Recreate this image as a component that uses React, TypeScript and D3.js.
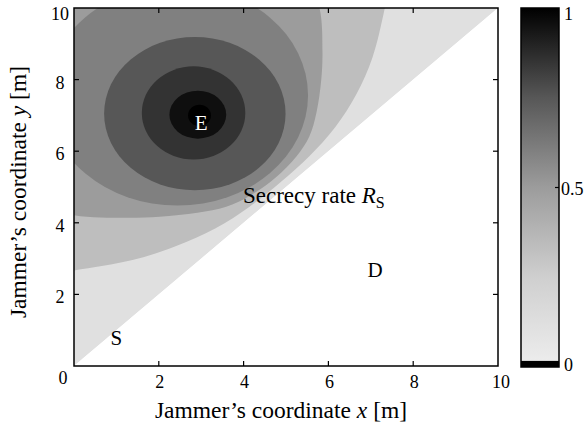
import React from 'react';
import * as d3 from 'd3';

// ---- data ----
const xDomain: [number, number] = [0, 10];
const yDomain: [number, number] = [0, 10];
const innerTicks = [2, 4, 6, 8];
const xLabelValues = [2, 4, 6, 8, 10];
const yLabelValues = [2, 4, 6, 8, 10];

// gray level of each filled contour band (outer -> inner)
const levelColors = ['#e0e0e0', '#bebebe', '#9c9c9c', '#808080', '#575757', '#333333', '#0f0f0f', '#000000'];

// contour boundary B2 (band 1 / band 2), open curve leaving the plot on the left and top
const b2Points: [number, number][] = [
  [-2.28, 2.38], [-1.01, 2.53], [0, 2.67], [1.38, 2.96], [2.41, 3.35], [3.33, 3.84], [4.14, 4.45], [4.87, 5.13],
  [5.55, 5.86], [6.16, 6.67], [6.66, 7.59], [7.04, 8.62], [7.33, 10.0], [7.48, 11.01], [7.62, 12.28],
];
const b2Far: [number, number][] = [[-3, 13]];

// contour boundary B3 (band 2 / band 3)
const b3Points: [number, number][] = [
  [-2.47, 5.54], [-1.08, 4.58], [0, 4.21], [1.22, 4.14], [2.02, 4.17], [2.91, 4.28], [3.59, 4.45], [4.14, 4.75],
  [4.75, 5.26], [5.25, 5.86], [5.55, 6.41], [5.72, 7.09], [5.83, 7.98], [5.86, 8.78], [5.79, 10.0],
  [5.42, 11.08], [4.46, 12.47],
];
const b3Far: [number, number][] = [[-3, 13]];

// closed contour levels 4..8 (B4, B5 and the rings around E): centre and radii in data units
const ringCx = [2.44, 2.85, 2.82, 2.92, 2.96];
const ringCy = [7.56, 7.05, 7.07, 7.02, 7.0];
const ringRx = [3.08, 2.14, 1.22, 0.67, 0.27];
const ringRy = [3.08, 2.14, 1.3, 0.67, 0.3];

// node labels
const nodeNames = ['E', 'D', 'S'];
const nodeX = [3.0, 7.1, 1.0];
const nodeY = [6.6, 2.5, 0.6];

// colorbar
const cbTicks = [0, 0.5, 1];
const cbTickLabels = ['0', '0.5', '1'];
const cbStops = [0, 0.25, 0.5, 0.75, 1];
const cbStopColors = ['#eeeeee', '#cfcfcf', '#9c9c9c', '#575757', '#000000'];
const cbUnderflow = 0.017;

const FONT = 'Liberation Serif, Times New Roman, Times, serif';

export default function App() {
  const x = d3.scaleLinear().domain(xDomain).range([74, 498]);
  const y = d3.scaleLinear().domain(yDomain).range([366, 8]);
  const cb = d3.scaleLinear().domain([0, 1]).range([367, 8]);

  const open = d3.line<[number, number]>().x(d => x(d[0])).y(d => y(d[1])).curve(d3.curveCatmullRom.alpha(0.5));
  const openPath = (pts: [number, number][], far: [number, number][]) =>
    (open(pts) || '') + far.map(p => `L${x(p[0])},${y(p[1])}`).join('') + 'Z';

  const tri = `M${x(0)},${y(0)}L${x(0)},${y(10)}L${x(10)},${y(10)}Z`;
  const x0 = x(0), x1 = x(10), y0 = y(0), y1 = y(10);

  return (
    <svg width={585} height={428} style={{ position: 'absolute', left: 0, top: 0, background: '#fff', fontFamily: FONT }}>
      <defs>
        <clipPath id="upper">
          <path d={tri} />
        </clipPath>
        <linearGradient id="cbgrad" x1="0" y1="1" x2="0" y2="0">
          {cbStops.map((s, i) => (
            <stop key={s} offset={s} stopColor={cbStopColors[i]} />
          ))}
        </linearGradient>
      </defs>

      {/* filled contour bands */}
      <rect x={x0} y={y1} width={x1 - x0} height={y0 - y1} fill="#fff" />
      <g clipPath="url(#upper)">
        <path d={tri} fill={levelColors[0]} />
        <path d={openPath(b2Points, b2Far)} fill={levelColors[1]} />
        <path d={openPath(b3Points, b3Far)} fill={levelColors[2]} />
        {ringCx.map((cx, i) => (
          <ellipse key={i} cx={x(cx)} cy={y(ringCy[i])}
            rx={x(ringRx[i]) - x(0)} ry={y(0) - y(ringRy[i])} fill={levelColors[3 + i]} />
        ))}
      </g>

      {/* frame + ticks */}
      <rect x={x0} y={y1} width={x1 - x0} height={y0 - y1} fill="none" stroke="#000" strokeWidth={1.5} />
      {innerTicks.map(t => (
        <g key={'t' + t} stroke="#000" strokeWidth={1.2}>
          <line x1={x(t)} x2={x(t)} y1={y0} y2={y0 - 5} />
          <line x1={x(t)} x2={x(t)} y1={y1} y2={y1 + 5} />
          <line x1={x0} x2={x0 + 5} y1={y(t)} y2={y(t)} />
          <line x1={x1} x2={x1 - 5} y1={y(t)} y2={y(t)} />
        </g>
      ))}

      {/* tick labels */}
      <g fontSize={18} fill="#000" textAnchor="middle" fontFamily={FONT}>
        {xLabelValues.map(v => (
          <text key={'xl' + v} x={x(v) + (v === 10 ? 3 : 1)} y={388}>{v}</text>
        ))}
        {yLabelValues.map(v => (
          <text key={'yl' + v} x={60} y={Math.max(y(v) + 9, 20)}>{v}</text>
        ))}
        <text x={63} y={384}>0</text>
      </g>

      {/* axis titles */}
      <text x={281} y={418} fontSize={23.5} textAnchor="middle" fontFamily={FONT}>
        Jammer’s coordinate <tspan fontStyle="italic">x</tspan> [m]
      </text>
      <text transform="translate(26,192) rotate(-90)" fontSize={23.5} textAnchor="middle" fontFamily={FONT}>
        Jammer’s coordinate <tspan fontStyle="italic">y</tspan> [m]
      </text>

      {/* annotations */}
      <text x={243} y={203} fontSize={23} fontFamily={FONT}>
        Secrecy rate <tspan fontStyle="italic">R</tspan><tspan fontSize={16} dy={5}>S</tspan>
      </text>
      {nodeNames.map((n, i) => (
        <text key={n} x={x(nodeX[i])} y={y(nodeY[i])} fontSize={21} textAnchor="middle" fontFamily={FONT}
          fill={n === 'E' ? '#fff' : '#000'}>{n}</text>
      ))}

      {/* colorbar */}
      <rect x={521} y={cb(1)} width={38} height={cb(0) - cb(1)} fill="url(#cbgrad)" />
      <rect x={521} y={cb(cbUnderflow)} width={38} height={cb(0) - cb(cbUnderflow)} fill="#000" />
      <rect x={521} y={cb(1)} width={38} height={cb(0) - cb(1)} fill="none" stroke="#000" strokeWidth={1.5} />
      {cbTicks.map((t, i) => (
        <g key={'cb' + t}>
          {t > 0 && t < 1 && <line x1={559} x2={555} y1={cb(t)} y2={cb(t)} stroke="#000" strokeWidth={1.2} />}
          <text x={t > 0 && t < 1 ? 561 : 564} y={Math.min(Math.max(cb(t) + 7, 20), 371)} fontSize={18} fontFamily={FONT}>{cbTickLabels[i]}</text>
        </g>
      ))}
    </svg>
  );
}
